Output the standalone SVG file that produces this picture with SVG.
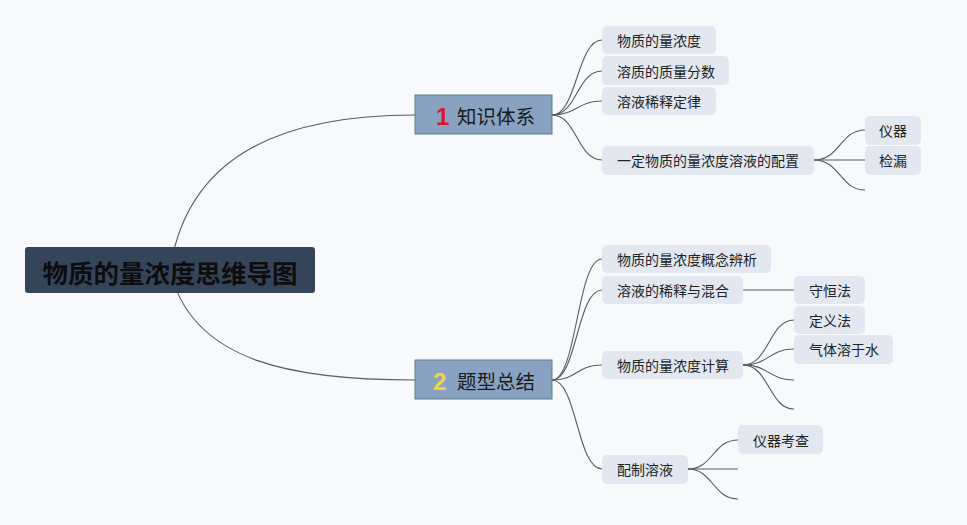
<svg xmlns="http://www.w3.org/2000/svg" width="967" height="525" viewBox="0 0 967 525">
<style>
text{font-family:"Noto Sans CJK SC","Noto Sans",sans-serif;}
.c{fill:none;stroke:#555b66;stroke-width:1.1;}
.n rect{fill:#e3e8f0;}
.n text{font-size:14px;fill:#222;dominant-baseline:central;}
.m rect{fill:#8aa2c2;stroke:#5a8088;stroke-width:1;}
.m .t{font-size:19.5px;fill:#1a1a1a;dominant-baseline:central;}
.num{font-family:"Liberation Sans",sans-serif;font-size:24px;font-weight:bold;dominant-baseline:central;}
</style>
<rect width="967" height="525" fill="#f8f9fa"/>
<g id="connectors">
<path class="c" d="M170 270 C188 150 290 115 415 115"/>
<path class="c" d="M170 270 C192 365 300 380 415 380"/>
<path class="c" d="M552 115 C577 115 577 40 602 40"/>
<path class="c" d="M552 115 C577 115 577 71 602 71"/>
<path class="c" d="M552 115 C577 115 577 101 602 101"/>
<path class="c" d="M552 115 C577 115 577 160 602 160"/>
<path class="c" d="M814 160 C840 160 840 130 865 130"/>
<path class="c" d="M814 160 L865 160"/>
<path class="c" d="M814 160 C840 160 840 190 865 190"/>
<path class="c" d="M552 380 C577 380 577 259 602 259"/>
<path class="c" d="M552 380 C577 380 577 290 602 290"/>
<path class="c" d="M552 380 C577 380 577 365 602 365"/>
<path class="c" d="M552 380 C577 380 577 469 602 469"/>
<path class="c" d="M743 290 L794 290"/>
<path class="c" d="M743 365 C769 365 769 320 794 320"/>
<path class="c" d="M743 365 C769 365 769 349 794 349"/>
<path class="c" d="M743 365 C769 365 769 380 794 380"/>
<path class="c" d="M743 365 C769 365 769 409 794 409"/>
<path class="c" d="M688 469 C713 469 713 440 738 440"/>
<path class="c" d="M688 469 L738 469"/>
<path class="c" d="M688 469 C713 469 713 499 738 499"/>
</g>
<g id="root">
<rect x="25" y="247" width="290" height="46" rx="3" fill="#354559"/>
<text x="170" y="271" font-size="25.5" font-weight="bold" fill="#0d0d0d" text-anchor="middle" dominant-baseline="central">物质的量浓度思维导图</text>
</g>
<g id="main1" class="m">
<rect x="415" y="95" width="137" height="39"/>
<text class="num" x="436" y="116" fill="#d4192c">1</text>
<text class="t" x="457" y="115">知识体系</text>
</g>
<g id="main2" class="m">
<rect x="415" y="360" width="137" height="39"/>
<text class="num" x="433" y="381" fill="#f2d640">2</text>
<text class="t" x="457" y="380">题型总结</text>
</g>
<g id="n1" class="n"><rect x="602" y="26" width="114" height="28" rx="5"/><text x="617" y="40">物质的量浓度</text></g>
<g id="n2" class="n"><rect x="602" y="56" width="127" height="29" rx="5"/><text x="617" y="71">溶质的质量分数</text></g>
<g id="n3" class="n"><rect x="602" y="87" width="114" height="28" rx="5"/><text x="617" y="101">溶液稀释定律</text></g>
<g id="n4" class="n"><rect x="602" y="146" width="212" height="29" rx="5"/><text x="617" y="160">一定物质的量浓度溶液的配置</text></g>
<g id="n5" class="n"><rect x="865" y="116" width="56" height="29" rx="5"/><text x="879" y="130">仪器</text></g>
<g id="n6" class="n"><rect x="865" y="146" width="56" height="29" rx="5"/><text x="879" y="160">检漏</text></g>
<g id="n7" class="n"><rect x="602" y="245" width="169" height="28" rx="5"/><text x="617" y="259">物质的量浓度概念辨析</text></g>
<g id="n8" class="n"><rect x="602" y="276" width="141" height="28" rx="5"/><text x="617" y="290">溶液的稀释与混合</text></g>
<g id="n9" class="n"><rect x="602" y="351" width="141" height="28" rx="5"/><text x="617" y="365">物质的量浓度计算</text></g>
<g id="n10" class="n"><rect x="602" y="455" width="86" height="29" rx="5"/><text x="617" y="469">配制溶液</text></g>
<g id="n11" class="n"><rect x="794" y="276" width="71" height="28" rx="5"/><text x="809" y="290">守恒法</text></g>
<g id="n12" class="n"><rect x="794" y="306" width="71" height="28" rx="5"/><text x="809" y="320">定义法</text></g>
<g id="n13" class="n"><rect x="794" y="335" width="99" height="29" rx="5"/><text x="809" y="349">气体溶于水</text></g>
<g id="n14" class="n"><rect x="738" y="425" width="85" height="29" rx="5"/><text x="753" y="440">仪器考查</text></g>
</svg>
